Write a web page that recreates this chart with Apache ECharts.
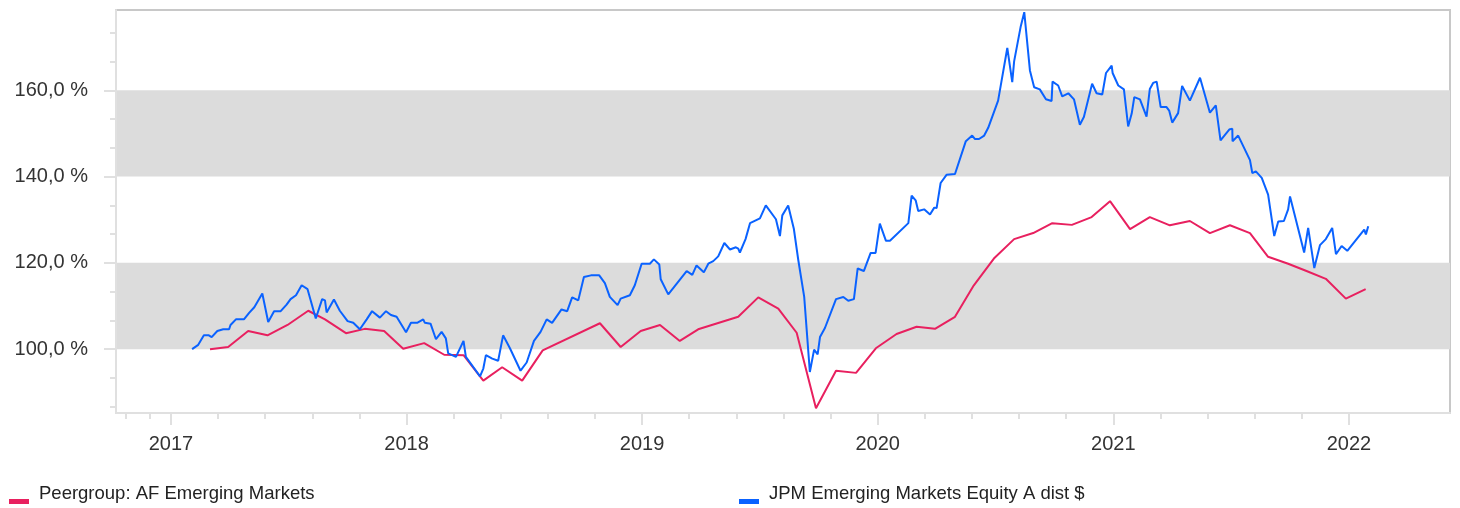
<!DOCTYPE html>
<html>
<head>
    <meta charset="utf-8">
    <title>Wertentwicklung</title>
    <script src="https://cdn.jsdelivr.net/npm/echarts@6/dist/echarts.min.js"></script>
    <style>
        html, body { margin: 0; padding: 0; background: #fff; }
        #chart { width: 1460px; height: 508px; }
    </style>
</head>
<body>
<div id="chart"></div>
<script type="text/javascript">
    // series names
    var peerName = 'Peergroup: AF Emerging Markets';
    var fundName = 'JPM Emerging Markets Equity A dist $';

    // x values are decimal years, y values are % of start value
    var peerYears = [
        2017.166, 2017.243, 2017.328, 2017.410, 2017.495, 2017.583, 2017.654, 2017.743, 2017.823, 2017.905,
        2017.986, 2018.075, 2018.160, 2018.242, 2018.326, 2018.406, 2018.491, 2018.578, 2018.821, 2018.909,
        2018.994, 2019.076, 2019.160, 2019.238, 2019.408, 2019.493, 2019.578, 2019.656, 2019.738, 2019.823,
        2019.908, 2019.992, 2020.080, 2020.165, 2020.243, 2020.328, 2020.408, 2020.493, 2020.579, 2020.660,
        2020.741, 2020.824, 2020.908, 2020.986, 2021.071, 2021.155, 2021.240, 2021.325, 2021.410, 2021.495,
        2021.580, 2021.657, 2021.742, 2021.820, 2021.902, 2021.987, 2022.071
    ];
    var peerValues = [
        100.0, 100.5, 104.2, 103.2, 105.6, 108.9, 106.9, 103.7, 104.7, 104.2,
        100.1, 101.4, 98.7, 98.6, 92.7, 95.8, 92.7, 99.7, 106.0, 100.5,
        104.2, 105.6, 101.9, 104.6, 107.5, 112.0, 109.4, 103.8, 86.3, 95.0,
        94.5, 100.2, 103.5, 105.2, 104.7, 107.5, 114.8, 121.0, 125.5, 126.9,
        129.2, 128.8, 130.6, 134.3, 127.8, 130.6, 128.7, 129.7, 126.9, 128.7,
        126.9, 121.4, 119.8, 118.1, 116.3, 111.7, 113.9
    ];

    var fundYears = [
        2017.090, 2017.116, 2017.140, 2017.161, 2017.173, 2017.197, 2017.222, 2017.247, 2017.253, 2017.276,
        2017.310, 2017.332, 2017.354, 2017.388, 2017.413, 2017.438, 2017.466, 2017.491, 2017.508, 2017.531,
        2017.555, 2017.580, 2017.615, 2017.642, 2017.654, 2017.661, 2017.692, 2017.717, 2017.750, 2017.774,
        2017.802, 2017.831, 2017.854, 2017.887, 2017.913, 2017.934, 2017.958, 2017.998, 2018.019, 2018.045,
        2018.071, 2018.078, 2018.102, 2018.125, 2018.149, 2018.167, 2018.177, 2018.210, 2018.242, 2018.252,
        2018.312, 2018.326, 2018.337, 2018.364, 2018.389, 2018.410, 2018.439, 2018.484, 2018.510, 2018.541,
        2018.569, 2018.595, 2018.618, 2018.658, 2018.682, 2018.703, 2018.729, 2018.753, 2018.783, 2018.818,
        2018.824, 2018.842, 2018.863, 2018.896, 2018.909, 2018.917, 2018.948, 2018.969, 2018.998, 2019.033,
        2019.050, 2019.073, 2019.079, 2019.111, 2019.189, 2019.213, 2019.231, 2019.262, 2019.281, 2019.302,
        2019.323, 2019.349, 2019.373, 2019.398, 2019.408, 2019.415, 2019.439, 2019.458, 2019.500, 2019.525,
        2019.568, 2019.585, 2019.595, 2019.620, 2019.644, 2019.663, 2019.688, 2019.712, 2019.730, 2019.745,
        2019.755, 2019.776, 2019.823, 2019.854, 2019.875, 2019.899, 2019.915, 2019.941, 2019.970, 2019.991,
        2020.009, 2020.035, 2020.052, 2020.130, 2020.144, 2020.161, 2020.172, 2020.197, 2020.222, 2020.240,
        2020.250, 2020.267, 2020.292, 2020.328, 2020.374, 2020.401, 2020.413, 2020.430, 2020.452, 2020.469,
        2020.511, 2020.550, 2020.571, 2020.579, 2020.607, 2020.622, 2020.646, 2020.664, 2020.688, 2020.714,
        2020.738, 2020.742, 2020.766, 2020.783, 2020.809, 2020.833, 2020.858, 2020.875, 2020.910, 2020.929,
        2020.953, 2020.969, 2020.993, 2020.997, 2021.021, 2021.045, 2021.063, 2021.078, 2021.089, 2021.113,
        2021.141, 2021.155, 2021.169, 2021.184, 2021.201, 2021.226, 2021.237, 2021.250, 2021.275, 2021.292,
        2021.325, 2021.368, 2021.410, 2021.435, 2021.455, 2021.492, 2021.505, 2021.506, 2021.530, 2021.580,
        2021.590, 2021.605, 2021.630, 2021.657, 2021.683, 2021.700, 2021.724, 2021.742, 2021.750, 2021.810,
        2021.827, 2021.853, 2021.877, 2021.902, 2021.929, 2021.945, 2021.969, 2021.993, 2022.065, 2022.072,
        2022.082
    ];
    var fundValues = [
        100.0, 101.0, 103.2, 103.2, 102.8, 104.2, 104.6, 104.6, 105.6, 106.9,
        106.9, 108.4, 109.7, 112.9, 106.3, 108.8, 108.8, 110.3, 111.6, 112.5,
        114.8, 113.9, 107.1, 111.6, 111.3, 108.5, 111.5, 108.9, 106.5, 106.1,
        104.6, 106.9, 108.8, 107.3, 108.8, 107.9, 107.5, 103.9, 106.1, 106.1,
        106.9, 106.1, 105.9, 102.3, 104.0, 102.5, 99.0, 98.2, 101.9, 98.2,
        93.7, 95.5, 98.6, 97.8, 97.3, 103.2, 100.2, 95.0, 96.9, 101.9,
        104.0, 106.9, 106.1, 109.2, 108.8, 112.0, 111.3, 116.7, 117.1, 117.1,
        117.5, 115.3, 112.1, 110.2, 111.7, 111.6, 112.5, 114.8, 119.8, 119.8,
        120.8, 119.6, 116.2, 112.7, 118.1, 117.2, 119.4, 117.8, 119.8, 120.4,
        121.5, 124.6, 123.1, 123.6, 123.3, 122.4, 125.5, 129.2, 130.3, 133.3,
        130.1, 126.2, 131.0, 133.3, 127.9, 120.6, 112.1, 94.7, 99.9, 98.8,
        102.8, 104.9, 111.6, 112.1, 111.2, 111.6, 118.7, 118.1, 122.3, 122.3,
        129.1, 125.1, 125.1, 129.2, 135.6, 134.5, 132.0, 132.4, 131.2, 132.8,
        132.7, 138.5, 140.4, 140.6, 148.2, 149.5, 148.7, 148.7, 149.5, 151.3,
        157.6, 169.8, 161.9, 166.7, 174.8, 178.1, 164.6, 160.7, 160.2, 157.9,
        157.5, 162.0, 161.1, 158.6, 159.3, 157.9, 152.0, 153.8, 161.5, 159.3,
        159.0, 164.0, 165.7, 164.0, 161.1, 160.2, 151.6, 154.6, 158.4, 157.9,
        153.9, 160.3, 161.7, 162.0, 156.1, 156.1, 155.3, 152.5, 154.7, 161.0,
        157.6, 162.9, 154.8, 156.5, 148.4, 150.9, 151.1, 148.2, 149.5, 143.8,
        140.8, 141.2, 139.7, 135.8, 126.2, 129.6, 129.7, 132.4, 135.4, 122.4,
        128.1, 118.8, 124.1, 125.5, 128.1, 122.0, 123.9, 122.8, 127.7, 126.6,
        128.5
    ];

    // tick labels
    var yearTicks = [2017, 2018, 2019, 2020, 2021, 2022];
    var minorYearTicks = [
        2016.81, 2016.91,
        2017.2, 2017.4, 2017.6, 2017.8,
        2018.2, 2018.4, 2018.6, 2018.8,
        2019.2, 2019.4, 2019.6, 2019.8,
        2020.2, 2020.4, 2020.6, 2020.8,
        2021.2, 2021.4, 2021.6, 2021.8
    ];
    var percentTicks = [100, 120, 140, 160];

    function pairs(xs, ys) {
        var out = [];
        for (var i = 0; i < xs.length; i++) {
            out.push([xs[i], ys[i]]);
        }
        return out;
    }

    var xMin = 2016.767, xMax = 2022.429;
    var axisGray = '#e0e0e0';
    var font = '"Liberation Sans", Arial, sans-serif';
    var legendIcon = 'path://M0,0M0,16L20,16L20,21L0,21Z';

    var myChart = echarts.init(document.getElementById('chart'));
    myChart.setOption({
        animation: false,
        textStyle: { fontFamily: font },
        grid: {
            left: 116, right: 10, top: 10, bottom: 95,
            show: true,
            borderColor: '#c8c8c8',
            borderWidth: 2,
            backgroundColor: 'transparent'
        },
        legend: [{
            data: [peerName],
            left: 4,
            top: 478,
            icon: legendIcon,
            itemWidth: 20,
            itemHeight: 21,
            itemStyle: { borderWidth: 0 },
            textStyle: { fontSize: 18.5, color: '#222', padding: [0, 0, 0, 5] }
        }, {
            data: [fundName],
            left: 734,
            top: 478,
            icon: legendIcon,
            itemWidth: 20,
            itemHeight: 21,
            itemStyle: { borderWidth: 0 },
            textStyle: { fontSize: 18.5, color: '#222', padding: [0, 0, 0, 5] }
        }],
        xAxis: [{
            type: 'value',
            min: xMin,
            max: xMax,
            axisLine: { lineStyle: { color: axisGray, width: 2 } },
            axisTick: { length: 12, lineStyle: { color: axisGray, width: 2 }, customValues: yearTicks },
            axisLabel: {
                customValues: yearTicks,
                margin: 21,
                fontSize: 20,
                color: '#333',
                formatter: function (v) { return String(Math.round(v)); }
            },
            splitLine: { show: false }
        }, {
            type: 'value',
            position: 'bottom',
            min: xMin,
            max: xMax,
            axisLine: { show: false },
            axisTick: { length: 6, lineStyle: { color: axisGray, width: 2 }, customValues: minorYearTicks },
            axisLabel: { show: false },
            splitLine: { show: false }
        }],
        yAxis: {
            type: 'value',
            min: 85.2,
            max: 178.6,
            axisLine: { show: true, lineStyle: { color: axisGray, width: 2 } },
            axisTick: { show: true, length: 12, lineStyle: { color: axisGray, width: 2 }, customValues: percentTicks },
            minorTick: { show: true, splitNumber: 3, length: 6, lineStyle: { color: axisGray, width: 2 } },
            axisLabel: {
                customValues: percentTicks,
                margin: 28,
                fontSize: 20,
                color: '#333',
                formatter: function (v) { return v.toFixed(1).replace('.', ',') + ' %'; }
            },
            splitLine: { show: false },
            // areas follow the custom ticks: 100-120, 120-140, 140-160
            splitArea: { show: true, areaStyle: { color: ['#dcdcdc', 'rgba(255,255,255,0)'] } }
        },
        series: [{
            name: peerName,
            type: 'line',
            xAxisIndex: 0,
            showSymbol: false,
            color: '#e8205f',
            lineStyle: { width: 2 },
            data: pairs(peerYears, peerValues)
        }, {
            name: fundName,
            type: 'line',
            xAxisIndex: 0,
            showSymbol: false,
            color: '#0a62ff',
            lineStyle: { width: 2 },
            data: pairs(fundYears, fundValues)
        }]
    });
</script>
</body>
</html>
